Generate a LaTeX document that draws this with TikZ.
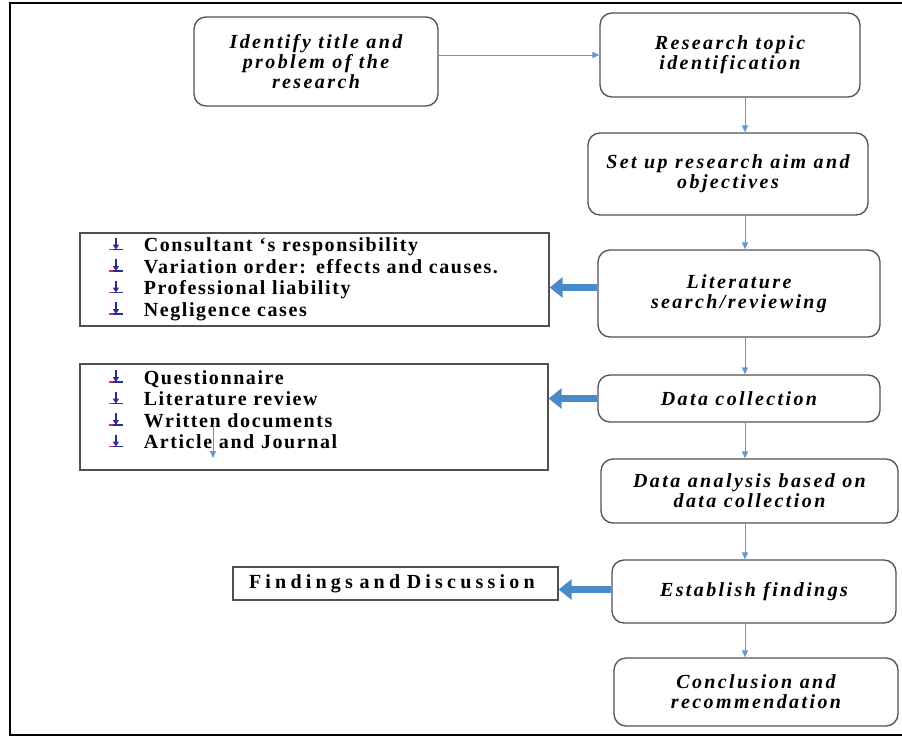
\documentclass[tikz,border=0pt]{standalone}
\usepackage{fontspec}
\setmainfont{Liberation Serif}
\newfontfamily\stepfont[LetterSpace=12]{Liberation Serif}
\newfontfamily\listfont[LetterSpace=8]{Liberation Serif}
\newfontfamily\widefont[LetterSpace=21]{Liberation Serif}
\usetikzlibrary{arrows.meta}

\definecolor{linkblue}{HTML}{5B9BD5}
\definecolor{fatblue}{HTML}{4A8AC8}
\definecolor{boxgray}{HTML}{505050}
\definecolor{markred}{HTML}{E03040}
\definecolor{markblue}{HTML}{2A2A9A}

% little bullet of the lists
\newcommand{\listmark}{\tikz[x=1pt,y=1pt,baseline=0pt]{
  \draw [markblue, line width=1.8pt] (0,2) -- (14,2);
  \draw [markred, line width=1.8pt] (0,2) -- (4,2);
  \draw [markblue, line width=1.6pt, -{Triangle[length=5pt,width=6pt]}] (7,14) -- (7,2);
}\hspace{20pt}}

\begin{document}
\begin{tikzpicture}[x=1pt, y=-1pt,
  stepbox/.style={draw=boxgray, line width=1.3pt, rounded corners=12pt, align=center,
    inner sep=0pt, font=\stepfont\bfseries\itshape\fontsize{20}{20}\selectfont},
  listbox/.style={draw=boxgray, line width=1.3pt, align=left, anchor=center,
    inner sep=0pt, font=\listfont\bfseries\fontsize{20}{21.5}\selectfont},
  thin/.style={draw=linkblue, line width=1pt, -{Triangle[length=7pt,width=6pt]}},
  fat/.style={draw=fatblue, line width=7pt, -{Triangle[length=13pt,width=20pt]}}]

\useasboundingbox (0,0) rectangle (902,742);
\draw [line width=1.8pt] (902,3) -- (10,3) -- (10,735) -- (902,735);

% ======================================
% MAIN COLUMN
% ======================================
\node[stepbox, minimum width=244pt, minimum height=89pt] (title) at (316,61.5) {Identify title and\\problem of the\\research};
\node[stepbox, minimum width=260pt, minimum height=84pt] (topic) at (730,55) {Research topic\\identification};
\node[stepbox, minimum width=280pt, minimum height=82pt] (aim) at (728,174) {Set up research aim and\\objectives};
\node[stepbox, minimum width=282pt, minimum height=87pt] (lit) at (739,293.5) {Literature\\search/reviewing};
\node[stepbox, minimum width=282pt, minimum height=47pt] (data) at (739,398.5) {Data collection};
\node[stepbox, minimum width=297pt, minimum height=64pt] (anal) at (749.5,491) {Data analysis based on\\data collection};
\node[stepbox, minimum width=284pt, minimum height=63pt] (find) at (754,591.5) {Establish findings};
\node[stepbox, minimum width=284pt, minimum height=68pt] (concl) at (756,692) {Conclusion and\\recommendation};

\coordinate (spine) at (745,0);
\draw [thin] (title.east |- topic.west) -- (topic.west);
\draw [thin] (topic.south -| spine) -- (aim.north -| spine);
\draw [thin] (aim.south -| spine) -- (lit.north -| spine);
\draw [thin] (lit.south -| spine) -- (data.north -| spine);
\draw [thin] (data.south -| spine) -- (anal.north -| spine);
\draw [thin] (anal.south -| spine) -- (find.north -| spine);
\draw [thin] (find.south -| spine) -- (concl.north -| spine);

% ======================================
% SIDE LISTS
% ======================================
\node[listbox, text width=469pt, minimum height=93pt] (scope) at (314.5,279.5) {%
  \begin{tabular}{@{\hspace{28pt}}l@{}}
  \listmark Consultant ‘s responsibility\\
  \listmark Variation order: effects and causes.\\
  \listmark Professional liability\\
  \listmark Negligence cases
  \end{tabular}};
\node[listbox, text width=468pt, minimum height=106pt] (sources) at (314,417) {%
  \begin{tabular}{@{\hspace{28pt}}l@{}}
  \listmark Questionnaire\\
  \listmark Literature review\\
  \listmark Written documents\\
  \listmark Article and Journal\\[10pt]
  \end{tabular}};
\node[listbox, text width=325pt, minimum height=33pt, font=\widefont\bfseries\fontsize{20}{21.5}\selectfont] (disc) at (395.5,583.5) {\hspace*{16pt}Findings and Discussion};

\draw [fat] ([yshift=6pt]lit.west) -- ([yshift=6pt]lit.west -| scope.east);
\draw [fat] (data.west) -- (data.west -| sources.east);
\draw [fat] ([yshift=2pt]find.west) -- ([yshift=2pt]find.west -| disc.east);

\coordinate (stray) at (213,424);
\coordinate (strayend) at (213,458);
\draw [thin] (stray) -- (strayend);

\end{tikzpicture}
\end{document}
